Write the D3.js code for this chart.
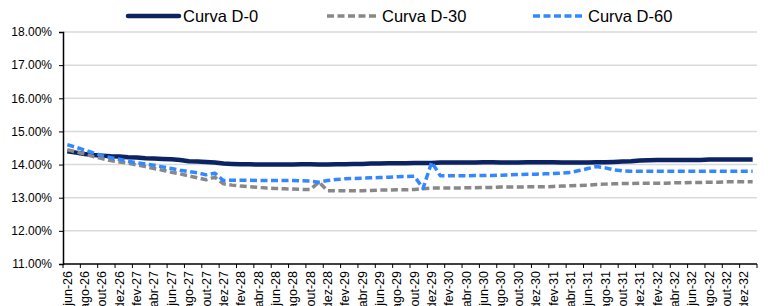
<!DOCTYPE html>
<html><head><meta charset="utf-8">
<script src="https://cdn.jsdelivr.net/npm/d3@7"></script>
<style>body{margin:0;background:#fff}svg{display:block}text{font-family:"Liberation Sans",Arial,sans-serif}</style>
</head><body><svg id="c" width="771" height="306"></svg>
<script>
// categories: jun-26 .. jan-33 (monthly)
const categories = [
"jun-26","jul-26","ago-26","set-26","out-26","nov-26","dez-26",
"jan-27","fev-27","mar-27","abr-27","mai-27","jun-27","jul-27","ago-27","set-27","out-27","nov-27","dez-27",
"jan-28","fev-28","mar-28","abr-28","mai-28","jun-28","jul-28","ago-28","set-28","out-28","nov-28","dez-28",
"jan-29","fev-29","mar-29","abr-29","mai-29","jun-29","jul-29","ago-29","set-29","out-29","nov-29","dez-29",
"jan-30","fev-30","mar-30","abr-30","mai-30","jun-30","jul-30","ago-30","set-30","out-30","nov-30","dez-30",
"jan-31","fev-31","mar-31","abr-31","mai-31","jun-31","jul-31","ago-31","set-31","out-31","nov-31","dez-31",
"jan-32","fev-32","mar-32","abr-32","mai-32","jun-32","jul-32","ago-32","set-32","out-32","nov-32","dez-32",
"jan-33"];
const tickLabels = categories.filter((c,i)=>i%2===0 && i<79);
const yTicks = [11,12,13,14,15,16,17,18];

const curvaD0 = [14.40,14.36,14.32,14.29,14.27,14.25,14.24,14.22,14.21,14.19,14.18,14.17,14.16,14.14,14.10,14.09,14.08,14.06,14.03,14.02,
14.01,14.01,14.00,14.00,14.00,14.00,14.00,14.01,14.01,14.00,14.00,14.01,14.01,14.02,14.02,14.03,14.03,14.04,14.04,14.04,
14.05,14.05,14.05,14.06,14.06,14.06,14.06,14.06,14.07,14.07,14.06,14.06,14.06,14.07,14.07,14.07,14.07,14.06,14.06,14.06,
14.06,14.07,14.07,14.08,14.09,14.10,14.12,14.13,14.14,14.14,14.14,14.14,14.14,14.14,14.15,14.15,14.15,14.15,14.15,14.15];
const curvaD30 = [14.45,14.38,14.32,14.24,14.18,14.12,14.08,14.04,13.99,13.94,13.88,13.83,13.77,13.72,13.66,13.60,13.54,13.62,13.42,13.38,
13.35,13.33,13.31,13.29,13.28,13.27,13.26,13.25,13.25,13.47,13.21,13.21,13.21,13.21,13.21,13.22,13.23,13.23,13.24,13.24,
13.25,13.27,13.29,13.29,13.29,13.29,13.30,13.30,13.31,13.31,13.32,13.32,13.32,13.33,13.33,13.33,13.34,13.35,13.36,13.37,
13.38,13.40,13.41,13.42,13.43,13.43,13.44,13.44,13.44,13.44,13.45,13.45,13.46,13.46,13.47,13.47,13.48,13.48,13.48,13.48];
const curvaD60 = [14.60,14.52,14.44,14.35,14.27,14.21,14.16,14.10,14.05,14.02,13.98,13.93,13.88,13.83,13.79,13.75,13.69,13.74,13.52,13.53,
13.53,13.53,13.52,13.52,13.52,13.52,13.52,13.51,13.50,13.47,13.52,13.55,13.57,13.58,13.59,13.60,13.61,13.62,13.63,13.64,
13.65,13.28,14.07,13.66,13.66,13.66,13.66,13.67,13.67,13.67,13.68,13.69,13.70,13.71,13.71,13.72,13.73,13.74,13.76,13.82,
13.88,13.94,13.90,13.84,13.81,13.80,13.80,13.80,13.80,13.80,13.80,13.80,13.80,13.80,13.80,13.80,13.80,13.80,13.80,13.80];

const series = [
  {name:"Curva D-0", values:curvaD0, color:"#0b2363", width:4.5, dash:null},
  {name:"Curva D-30", values:curvaD30, color:"#888888", width:3.5, dash:"7,3.5"},
  {name:"Curva D-60", values:curvaD60, color:"#3388ff", width:3.5, dash:"7,3.5"}
];

const svg = d3.select("#c");
const pL=63, pR=757, pT=32, pB=264;
const x = d3.scaleBand().domain(categories).range([pL,pR]).paddingInner(0).paddingOuter(0);
const y = d3.scaleLinear().domain([11,18]).range([pB,pT]);

// gridlines
svg.append("g").selectAll("line").data(yTicks.filter(t=>t>11)).join("line")
  .attr("x1",pL).attr("x2",pR).attr("y1",d=>y(d)).attr("y2",d=>y(d))
  .attr("stroke","#d9d9d9").attr("stroke-width",1.5);

// y axis
const ya = svg.append("g").attr("transform",`translate(${pL},0)`)
  .call(d3.axisLeft(y).tickValues(yTicks).tickSize(4).tickPadding(7).tickFormat(d=>d.toFixed(2)+"%"));
ya.select(".domain").attr("stroke","#000").attr("stroke-width",1.5);
ya.selectAll(".tick line").attr("stroke","#000");
ya.selectAll("text").attr("font-size","12px").attr("fill","#000").style("font-family","'Liberation Sans',Arial,sans-serif");

// x axis
const xa = svg.append("g").attr("transform",`translate(0,${pB})`)
  .call(d3.axisBottom(x).tickValues(tickLabels).tickSize(0).tickPadding(0));
xa.select(".domain").attr("stroke","#000").attr("stroke-width",1.5).attr("d",`M${pL},0H${pR}`);
xa.selectAll(".tick text").attr("font-size","12.5px").attr("fill","#000")
  .style("font-family","'Liberation Sans',Arial,sans-serif")
  .attr("text-anchor","end").attr("transform","rotate(-90)")
  .attr("x",-7).attr("y",0).attr("dy","0.35em");
// tick marks at category boundaries (every 2 months)
const bounds = tickLabels.map(c=>x(c)).concat([x(categories[categories.length-1])+x.bandwidth()]);
xa.append("g").selectAll("line").data(bounds).join("line")
  .attr("x1",d=>d).attr("x2",d=>d).attr("y1",0).attr("y2",4).attr("stroke","#000").attr("stroke-width",1);

// lines
const line = d3.line().x((d,i)=>x(categories[i])+x.bandwidth()/2).y(d=>y(d)).curve(d3.curveLinear);
series.forEach(s=>{
  svg.append("path").datum(s.values).attr("d",line).attr("fill","none")
    .attr("stroke",s.color).attr("stroke-width",s.width)
    .attr("stroke-dasharray",s.dash).attr("stroke-linejoin","round");
});

// legend
const legX = [128,327,533];
const lg = svg.append("g");
series.forEach((s,i)=>{
  lg.append("line").attr("x1",legX[i]).attr("x2",legX[i]+51).attr("y1",16).attr("y2",16)
    .attr("stroke",s.color).attr("stroke-width",s.width).attr("stroke-dasharray",s.dash)
    .attr("stroke-linecap",s.dash?"butt":"round");
  lg.append("text").attr("x",legX[i]+55).attr("y",22).attr("font-size","16.5px").attr("fill","#000").text(s.name);
});
</script></body></html>
